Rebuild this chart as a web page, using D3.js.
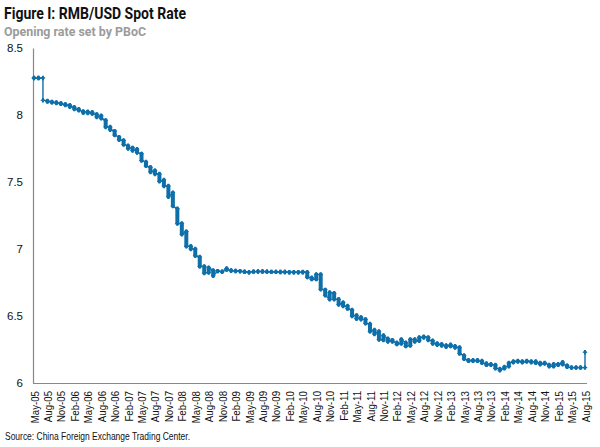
<!DOCTYPE html>
<html>
<head>
<meta charset="utf-8">
<script src="https://cdn.jsdelivr.net/npm/d3@7"></script>
<style>
  html, body { margin: 0; padding: 0; background: #fff; }
  svg { display: block; }
</style>
</head>
<body>
<svg id="chart" width="600" height="447"></svg>
<script>
// ---- Data (monthly, PBoC opening rate; first and last fixing of each month) ----
const monthLabels = d3.timeMonth.range(new Date(2005, 4, 1), new Date(2015, 8, 1)).map(d3.timeFormat("%b-%y"));

const monthOpen = [
  8.2765, 8.2765, 8.2765, 8.105, 8.098, 8.093, 8.087, 8.080, 8.073, 8.058, 8.043, 8.027,
  8.025, 8.020, 8.005, 7.995, 7.960, 7.910, 7.880, 7.835, 7.810, 7.770, 7.755, 7.745,
  7.710, 7.650, 7.610, 7.585, 7.560, 7.515, 7.470, 7.420, 7.300, 7.190, 7.130, 7.020,
  7.000, 6.940, 6.870, 6.825, 6.840, 6.835, 6.830, 6.855, 6.840, 6.836, 6.835, 6.831,
  6.826, 6.831, 6.832, 6.832, 6.830, 6.829, 6.829, 6.828, 6.828, 6.827, 6.826, 6.826,
  6.827, 6.827, 6.785, 6.775, 6.810, 6.695, 6.625, 6.670, 6.625, 6.600, 6.575, 6.545,
  6.505, 6.490, 6.475, 6.440, 6.395, 6.385, 6.320, 6.330, 6.320, 6.300, 6.295, 6.300,
  6.280, 6.325, 6.315, 6.340, 6.340, 6.315, 6.295, 6.290, 6.280, 6.285, 6.275, 6.265,
  6.205, 6.170, 6.170, 6.170, 6.165, 6.145, 6.140, 6.135, 6.105, 6.110, 6.125, 6.155,
  6.165, 6.160, 6.160, 6.160, 6.160, 6.150, 6.145, 6.135, 6.125, 6.140, 6.155, 6.130,
  6.115, 6.115, 6.115, 6.115
];
const monthClose = [
  8.2765, 8.2765, 8.110, 8.100, 8.094, 8.090, 8.083, 8.074, 8.062, 8.045, 8.035, 8.017,
  8.015, 8.010, 7.985, 7.975, 7.910, 7.890, 7.850, 7.815, 7.780, 7.750, 7.735, 7.720,
  7.660, 7.620, 7.575, 7.560, 7.505, 7.470, 7.390, 7.320, 7.190, 7.110, 7.020, 7.000,
  6.950, 6.870, 6.820, 6.860, 6.800, 6.835, 6.830, 6.845, 6.838, 6.836, 6.834, 6.829,
  6.826, 6.831, 6.832, 6.832, 6.830, 6.829, 6.829, 6.828, 6.828, 6.827, 6.826, 6.826,
  6.828, 6.790, 6.775, 6.810, 6.700, 6.655, 6.675, 6.625, 6.585, 6.575, 6.555, 6.500,
  6.480, 6.475, 6.445, 6.385, 6.365, 6.325, 6.355, 6.310, 6.310, 6.290, 6.325, 6.275,
  6.325, 6.310, 6.340, 6.345, 6.320, 6.295, 6.285, 6.280, 6.270, 6.275, 6.265, 6.220,
  6.180, 6.165, 6.165, 6.165, 6.150, 6.135, 6.135, 6.110, 6.095, 6.120, 6.150, 6.160,
  6.160, 6.155, 6.165, 6.155, 6.150, 6.140, 6.150, 6.125, 6.140, 6.135, 6.140, 6.120,
  6.115, 6.115, 6.115, 6.230
];
// months where the rate moved in one single jump (no intermediate fixings)
const singleJumpMonths = ["Jul-05", "Aug-15"];
const xTickLabels = [
  "May-05","Aug-05","Nov-05","Feb-06","May-06","Aug-06","Nov-06","Feb-07","May-07","Aug-07",
  "Nov-07","Feb-08","May-08","Aug-08","Nov-08","Feb-09","May-09","Aug-09","Nov-09","Feb-10",
  "May-10","Aug-10","Nov-10","Feb-11","May-11","Aug-11","Nov-11","Feb-12","May-12","Aug-12",
  "Nov-12","Feb-13","May-13","Aug-13","Nov-13","Feb-14","May-14","Aug-14","Nov-14","Feb-15",
  "May-15","Aug-15"
];
const yTicks = [6, 6.5, 7, 7.5, 8, 8.5];

// ---- Layout ----
const svg = d3.select("#chart");
const color = "#0f6fa9";
const x = d3.scalePoint().domain(monthLabels).range([34, 585]);
const y = d3.scaleLinear().domain([6, 8.5]).range([383, 48]);

// Titles
svg.append("text").attr("x", 4).attr("y", 19)
  .attr("font-family", "Roboto, 'Liberation Sans', sans-serif").attr("font-weight", 700)
  .attr("font-size", 16).attr("fill", "#111")
  .attr("textLength", 182).attr("lengthAdjust", "spacingAndGlyphs")
  .text("Figure I: RMB/USD Spot Rate");
svg.append("text").attr("x", 4).attr("y", 36)
  .attr("font-family", "Roboto, 'Liberation Sans', sans-serif").attr("font-weight", 700)
  .attr("font-size", 13).attr("fill", "#9b9b9b")
  .attr("textLength", 142).attr("lengthAdjust", "spacingAndGlyphs")
  .text("Opening rate set by PBoC");

// Y axis
const yAxis = svg.append("g").attr("transform", "translate(33,0)")
  .call(d3.axisLeft(y).tickValues(yTicks).tickFormat(d3.format("")).tickSize(0).tickPadding(10));
yAxis.select(".domain").attr("stroke", "#888").attr("stroke-width", 1.2);
yAxis.selectAll("text").attr("font-family", "'Liberation Sans', Arial, sans-serif")
  .attr("font-size", 11.5).attr("fill", "#111");

// X axis
const xAxis = svg.append("g").attr("transform", "translate(0,383)")
  .call(d3.axisBottom(x).tickValues(xTickLabels).tickSize(0));
xAxis.select(".domain").attr("stroke", "#888").attr("stroke-width", 1.2)
  .attr("d", "M33,0.5H587");
xAxis.selectAll("text")
  .attr("font-family", "'Liberation Sans', Arial, sans-serif").attr("font-size", 11.5).attr("fill", "#111")
  .attr("x", 0).attr("y", 0).attr("dy", "0.35em")
  .attr("text-anchor", "end")
  .attr("transform", "translate(0,8) rotate(-90) scale(0.84,1)");

// Series
const pts = [];
monthLabels.forEach((m, i) => {
  pts.push({ m, v: monthOpen[i] });
  pts.push({ m, v: monthClose[i] });
});
const line = d3.line().x(d => x(d.m)).y(d => y(d.v));
svg.append("path").datum(pts).attr("d", line)
  .attr("fill", "none").attr("stroke", color).attr("stroke-width", 1.4);

// Monthly range bars (all fixings of a month share one x position)
const rangeMonths = monthLabels.map((m, i) => ({ m, i })).filter(d => !singleJumpMonths.includes(d.m));
svg.append("g").selectAll("line").data(rangeMonths).join("line")
  .attr("x1", d => x(d.m)).attr("x2", d => x(d.m))
  .attr("y1", d => y(Math.max(monthOpen[d.i], monthClose[d.i])))
  .attr("y2", d => y(Math.min(monthOpen[d.i], monthClose[d.i])))
  .attr("stroke", color).attr("stroke-width", 4).attr("stroke-linecap", "round");

// Markers
svg.append("g").selectAll("path").data(pts).join("path")
  .attr("transform", d => `translate(${x(d.m)},${y(d.v)})`)
  .attr("d", "M-2.6,0L-1,-1.1V-2.2H1V-1.1L2.6,0L1,1.1V2.2H-1V1.1Z")
  .attr("fill", color);

// Source
svg.append("text").attr("x", 5).attr("y", 440)
  .attr("font-family", "'Liberation Sans', Arial, sans-serif").attr("font-size", 11.5).attr("fill", "#111")
  .attr("textLength", 185).attr("lengthAdjust", "spacingAndGlyphs")
  .text("Source: China Foreign Exchange Trading Center.");
</script>
</body>
</html>
